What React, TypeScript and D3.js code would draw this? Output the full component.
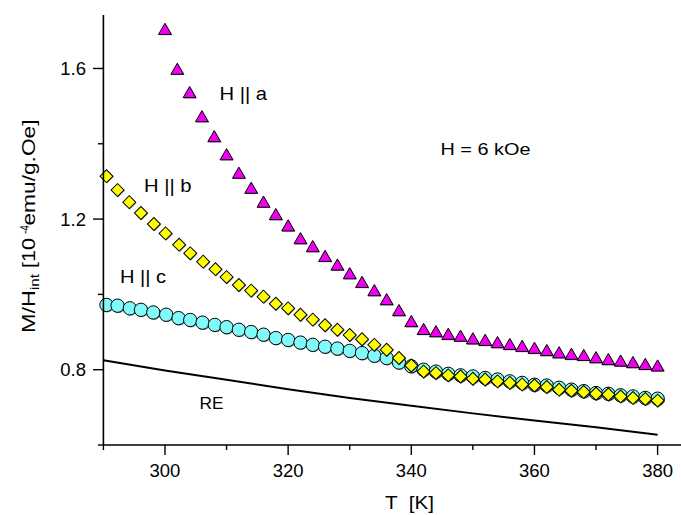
import React from "react";
import * as d3 from "d3";

const W = 681;
const H = 515;

// H || a (triangles)
const tA = [300,302,304,306,308,310,312,314,316,318,320,322,324,326,328,330,332,334,336,338,340,342,344,346,348,350,352,354,356,358,360,362,364,366,368,370,372,374,376,378,380];
const mA = [1.703,1.597,1.535,1.471,1.418,1.370,1.321,1.281,1.244,1.211,1.181,1.147,1.126,1.100,1.077,1.054,1.031,1.009,0.985,0.956,0.927,0.906,0.900,0.893,0.888,0.881,0.877,0.871,0.866,0.861,0.856,0.850,0.844,0.840,0.837,0.831,0.826,0.822,0.818,0.813,0.809];

// H || b (diamonds)
const tB = [290.5,292.3,294.2,296.1,298.2,300.1,302.3,304.1,306.2,308.2,310,312,314,316,318,320,322,324,326,328,330,332,334,336,338,340,342,344,346,348,350,352,354,356,358,360,362,364,366,368,370,372,374,376,378,380];
const mB = [1.314,1.277,1.245,1.216,1.187,1.162,1.132,1.109,1.087,1.067,1.046,1.025,1.010,0.994,0.975,0.963,0.946,0.933,0.918,0.906,0.892,0.881,0.866,0.853,0.831,0.811,0.795,0.791,0.785,0.782,0.776,0.774,0.769,0.765,0.761,0.758,0.754,0.747,0.744,0.741,0.736,0.734,0.729,0.725,0.722,0.718];

// H || c (circles)
const tC = [290.5,292.3,294.3,296.1,298.1,300.2,302.2,304.1,306.1,308.1,310,312,314,316,318,320,322,324,326,328,330,332,334,336,338,340,342,344,346,348,350,352,354,356,358,360,362,364,366,368,370,372,374,376,378,380];
const mC = [0.972,0.970,0.963,0.959,0.952,0.946,0.937,0.932,0.925,0.919,0.913,0.906,0.900,0.893,0.884,0.879,0.872,0.866,0.861,0.856,0.850,0.844,0.837,0.831,0.819,0.809,0.800,0.795,0.789,0.785,0.782,0.778,0.774,0.769,0.765,0.760,0.758,0.752,0.747,0.743,0.738,0.736,0.732,0.729,0.725,0.723];

// RE line
const tRE = [290,300,310,320,330,340,350,360,370,380];
const mRE = [0.825,0.798,0.773,0.748,0.725,0.704,0.684,0.665,0.647,0.627];

const xMajor = [300,320,340,360,380];
const xMinor = [290,310,330,350,370];
const yMajor = [0.8,1.2,1.6];
const yMinor = [0.6,1.0,1.4];

const FONT = "'Liberation Sans', Arial, Helvetica, sans-serif";

export default function App() {
  const x = d3.scaleLinear().domain([290, 383.8]).range([103.4, 681]);
  const y = d3.scaleLinear().domain([0.6, 1.742]).range([445, 15]);

  const tri = d3.symbol().type(d3.symbolTriangle).size(72)()!;
  const dia = d3.symbol().type(d3.symbolSquare).size(84)()!;
  const circ = d3.symbol().type(d3.symbolCircle).size(140)()!;

  const reLine = d3.line<number>().x((d, i) => x(tRE[i])).y((d) => y(d))(mRE)!;

  const markers = (ts: number[], ms: number[], path: string, fill: string, rot: number, dy: number) =>
    ts.map((t, i) => (
      <g key={i} transform={`translate(${x(t)},${y(ms[i]) + dy}) rotate(${rot})`}>
        <path d={path} transform={rot ? "translate(1.1,0)" : "translate(0.8,0.8)"} fill="#444" opacity={0.55} />
        <path d={path} fill={fill} stroke="#000" strokeWidth={1} />
      </g>
    ));

  return (
    <svg width={W} height={H} style={{ position: "absolute", left: 0, top: 0, background: "#fff" }} fontFamily={FONT}>
      <rect width={W} height={H} fill="#fff" />
      {/* RE line */}
      <path d={reLine} fill="none" stroke="#000" strokeWidth={2} />
      {/* series */}
      <g>{markers(tC, mC, circ, "#80fafa", 0, 0)}</g>
      <g>{markers(tB, mB, dia, "#ffff00", 45, 0)}</g>
      <g>{markers(tA, mA, tri, "#f000f0", 0, 1)}</g>

      {/* axes */}
      <line x1={103.4} x2={103.4} y1={15} y2={445} stroke="#000" strokeWidth={1.6} />
      <line x1={103.4} x2={681} y1={445} y2={445} stroke="#000" strokeWidth={1.6} />
      {yMajor.map((v) => (
        <g key={"ym" + v}>
          <line x1={93} x2={103.4} y1={y(v)} y2={y(v)} stroke="#000" strokeWidth={1.4} />
          <text x={86} y={y(v) + 6.5} textAnchor="end" fontSize={18.5} fill="#000">{v.toFixed(1)}</text>
        </g>
      ))}
      {yMinor.map((v) => (
        <line key={"yn" + v} x1={98} x2={103.4} y1={y(v)} y2={y(v)} stroke="#000" strokeWidth={1.4} />
      ))}
      {xMajor.map((v) => (
        <g key={"xm" + v}>
          <line x1={x(v)} x2={x(v)} y1={445} y2={455} stroke="#000" strokeWidth={1.4} />
          <text x={x(v)} y={477} textAnchor="middle" fontSize={18.5} fill="#000">{v}</text>
        </g>
      ))}
      {xMinor.map((v) => (
        <line key={"xn" + v} x1={x(v)} x2={x(v)} y1={445} y2={450} stroke="#000" strokeWidth={1.4} />
      ))}

      {/* axis titles */}
      <text x={385} y={509} fontSize={17.5} fill="#000" xmlSpace="preserve" textLength={49} lengthAdjust="spacingAndGlyphs">{"T  [K]"}</text>
      <g transform="translate(35,332) rotate(-90)">
        <text fontSize={18.5} fill="#000">
          <tspan x={-1} y={0} textLength={43} lengthAdjust="spacingAndGlyphs">M/H</tspan>
          <tspan x={42} y={3.5} fontSize={12} textLength={16} lengthAdjust="spacingAndGlyphs">int</tspan>
          <tspan x={64} y={0} textLength={30} lengthAdjust="spacingAndGlyphs">[10</tspan>
          <tspan x={98} y={-6.5} fontSize={12} textLength={9} lengthAdjust="spacingAndGlyphs">-4</tspan>
          <tspan x={106.5} y={0} textLength={106} lengthAdjust="spacingAndGlyphs">emu/g.Oe]</tspan>
        </text>
      </g>

      {/* annotations */}
      <text x={219.5} y={100} fontSize={18.5} fill="#000" textLength={47.5} lengthAdjust="spacingAndGlyphs">H || a</text>
      <text x={144} y={192} fontSize={18.5} fill="#000" textLength={47.5} lengthAdjust="spacingAndGlyphs">H || b</text>
      <text x={120} y={283} fontSize={18.5} fill="#000" textLength={46} lengthAdjust="spacingAndGlyphs">H || c</text>
      <text x={440.5} y={155} fontSize={16.5} fill="#000" textLength={90} lengthAdjust="spacingAndGlyphs">H = 6 kOe</text>
      <text x={199.5} y={409} fontSize={17} fill="#000" textLength={24} lengthAdjust="spacingAndGlyphs">RE</text>
    </svg>
  );
}
